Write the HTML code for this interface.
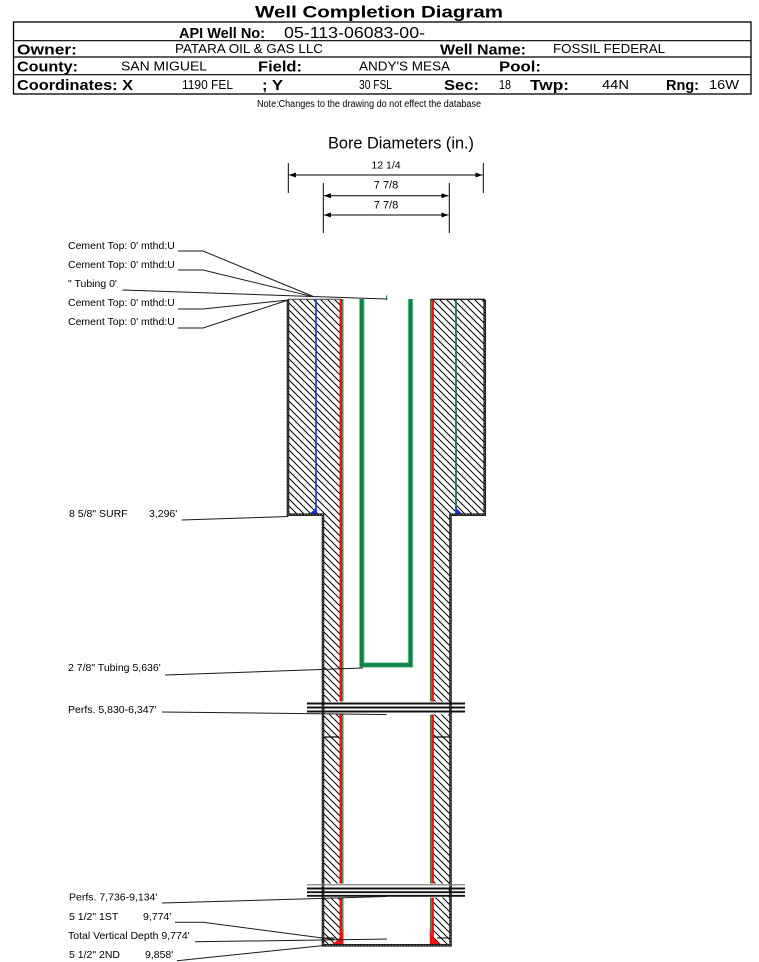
<!DOCTYPE html>
<html><head><meta charset="utf-8">
<style>
html,body{margin:0;padding:0;background:#fff;}
svg{display:block;}
text{font-family:"Liberation Sans",Arial,sans-serif;fill:#000;}
.b{font-weight:bold;}
</style></head>
<body>
<svg width="759" height="962" viewBox="0 0 759 962" xmlns="http://www.w3.org/2000/svg">
<defs>
<pattern id="h" patternUnits="userSpaceOnUse" width="7" height="7">
<path d="M-1,-1 L8,8 M-1,6 L1,8 M6,-1 L8,1" stroke="#000" stroke-width="1" fill="none"/>
</pattern>
</defs>
<rect width="759" height="962" fill="#fff"/>

<!-- Header -->
<text x="255" y="17.5" class="b" font-size="17" textLength="248" lengthAdjust="spacingAndGlyphs">Well Completion Diagram</text>
<rect x="13.5" y="22" width="737.5" height="72" fill="none" stroke="#000" stroke-width="1.3"/>
<line x1="13.5" y1="40.7" x2="751" y2="40.7" stroke="#000" stroke-width="1.2"/>
<line x1="13.5" y1="57" x2="751" y2="57" stroke="#000" stroke-width="1.2"/>
<line x1="13.5" y1="74.7" x2="751" y2="74.7" stroke="#000" stroke-width="1.2"/>

<text x="179" y="38" class="b" font-size="15" textLength="86" lengthAdjust="spacingAndGlyphs">API Well No:</text>
<text x="284" y="38" font-size="16" textLength="141" lengthAdjust="spacingAndGlyphs">05-113-06083-00-</text>

<text x="17" y="54.5" class="b" font-size="15" textLength="60" lengthAdjust="spacingAndGlyphs">Owner:</text>
<text x="175" y="53" font-size="13" textLength="148" lengthAdjust="spacingAndGlyphs">PATARA OIL &amp; GAS LLC</text>
<text x="440" y="54.5" class="b" font-size="15" textLength="86" lengthAdjust="spacingAndGlyphs">Well Name:</text>
<text x="553" y="53" font-size="13" textLength="112" lengthAdjust="spacingAndGlyphs">FOSSIL FEDERAL</text>

<text x="17" y="71.5" class="b" font-size="15" textLength="61" lengthAdjust="spacingAndGlyphs">County:</text>
<text x="121" y="70.5" font-size="13" textLength="86" lengthAdjust="spacingAndGlyphs">SAN MIGUEL</text>
<text x="258" y="71.5" class="b" font-size="15" textLength="44" lengthAdjust="spacingAndGlyphs">Field:</text>
<text x="359" y="70.5" font-size="13" textLength="91" lengthAdjust="spacingAndGlyphs">ANDY'S MESA</text>
<text x="499" y="71.5" class="b" font-size="15" textLength="42" lengthAdjust="spacingAndGlyphs">Pool:</text>

<text x="17" y="90" class="b" font-size="15" textLength="116" lengthAdjust="spacingAndGlyphs">Coordinates: X</text>
<text x="182" y="89" font-size="13" textLength="51" lengthAdjust="spacingAndGlyphs">1190 FEL</text>
<text x="262" y="90" class="b" font-size="15" textLength="21" lengthAdjust="spacingAndGlyphs">; Y</text>
<text x="359" y="89" font-size="13" textLength="33" lengthAdjust="spacingAndGlyphs">30 FSL</text>
<text x="444" y="90" class="b" font-size="15" textLength="35" lengthAdjust="spacingAndGlyphs">Sec:</text>
<text x="499" y="89" font-size="13" textLength="12" lengthAdjust="spacingAndGlyphs">18</text>
<text x="530" y="90" class="b" font-size="15" textLength="39" lengthAdjust="spacingAndGlyphs">Twp:</text>
<text x="602" y="89" font-size="13" textLength="27" lengthAdjust="spacingAndGlyphs">44N</text>
<text x="666" y="90" class="b" font-size="15" textLength="33" lengthAdjust="spacingAndGlyphs">Rng:</text>
<text x="709" y="89" font-size="13" textLength="30" lengthAdjust="spacingAndGlyphs">16W</text>

<text x="257" y="107" font-size="10" textLength="224" lengthAdjust="spacingAndGlyphs">Note:Changes to the drawing do not effect the database</text>

<!-- Bore diameters -->
<text x="328" y="148.3" font-size="16.3" textLength="146" lengthAdjust="spacingAndGlyphs">Bore Diameters (in.)</text>
<g stroke="#000" stroke-width="1">
<line x1="288.3" y1="163" x2="288.3" y2="193"/>
<line x1="483.3" y1="163" x2="483.3" y2="193"/>
<line x1="323.3" y1="183" x2="323.3" y2="233"/>
<line x1="449.3" y1="183" x2="449.3" y2="233"/>
<line x1="289" y1="175" x2="482.5" y2="175"/>
<line x1="324" y1="195.7" x2="448.5" y2="195.7"/>
<line x1="324" y1="215" x2="448.5" y2="215"/>
</g>
<g fill="#000">
<polygon points="289,175 296,172.5 296,177.5"/>
<polygon points="482.5,175 475.5,172.5 475.5,177.5"/>
<polygon points="324,195.7 331,193.2 331,198.2"/>
<polygon points="448.5,195.7 441.5,193.2 441.5,198.2"/>
<polygon points="324,215 331,212.5 331,217.5"/>
<polygon points="448.5,215 441.5,212.5 441.5,217.5"/>
</g>
<text x="386" y="168.5" font-size="10.5" text-anchor="middle">12 1/4</text>
<text x="386" y="188.3" font-size="11" text-anchor="middle">7 7/8</text>
<text x="386" y="208.3" font-size="11" text-anchor="middle">7 7/8</text>

<!-- Hatched cement -->
<rect x="288" y="299" width="52" height="215.7" fill="url(#h)"/>
<rect x="432" y="299" width="53" height="215.7" fill="url(#h)"/>
<rect x="323" y="514" width="17" height="431" fill="url(#h)"/>
<rect x="432" y="514" width="18" height="431" fill="url(#h)"/>

<!-- perf breaks -->
<rect x="324.5" y="701.5" width="124" height="13" fill="#fff"/>
<rect x="324.5" y="883.5" width="124" height="14" fill="#fff"/>

<!-- inner hatch marks -->
<line x1="323" y1="737" x2="339" y2="737" stroke="#000" stroke-width="1.2"/>
<line x1="433" y1="737" x2="449" y2="737" stroke="#000" stroke-width="1.2"/>
<line x1="323" y1="938" x2="336" y2="938" stroke="#000" stroke-width="1"/>
<line x1="437" y1="938" x2="449" y2="938" stroke="#000" stroke-width="1"/>

<!-- surface casing -->
<line x1="316" y1="299" x2="316" y2="514" stroke="#2244cc" stroke-width="1.8"/>
<line x1="456" y1="299" x2="456" y2="514" stroke="#117a55" stroke-width="1.8"/>
<polygon points="316.5,507.5 316.5,514.5 309,514.5" fill="#1030e0"/>
<polygon points="455.5,507.5 455.5,514.5 463,514.5" fill="#1030e0"/>

<!-- production casing (red + green) -->
<g stroke-width="2.6" stroke="#ee1111">
<line x1="340.8" y1="299" x2="340.8" y2="701.5"/>
<line x1="340.8" y1="714.5" x2="340.8" y2="883.5"/>
<line x1="340.8" y1="897.5" x2="340.8" y2="944"/>
<line x1="432.6" y1="299" x2="432.6" y2="701.5"/>
<line x1="432.6" y1="714.5" x2="432.6" y2="883.5"/>
<line x1="432.6" y1="897.5" x2="432.6" y2="944"/>
</g>
<g stroke-width="1.3" stroke="#1b8a3a">
<line x1="342.8" y1="299" x2="342.8" y2="701.5"/>
<line x1="342.8" y1="714.5" x2="342.8" y2="883.5"/>
<line x1="342.8" y1="897.5" x2="342.8" y2="944"/>
<line x1="430.6" y1="299" x2="430.6" y2="701.5"/>
<line x1="430.6" y1="714.5" x2="430.6" y2="883.5"/>
<line x1="430.6" y1="897.5" x2="430.6" y2="944"/>
</g>
<path d="M343.5,928 L343.5,944.5 L331,944.5 Q341,940 343.5,928 Z" fill="#ee1111"/>
<path d="M429.8,928 L429.8,944.5 L442,944.5 Q432,940 429.8,928 Z" fill="#ee1111"/>

<!-- tubing -->
<path d="M361.8,299 V665 H410.5 V299" fill="none" stroke="#8cc89c" stroke-width="5.5"/>
<path d="M361.8,299 V665 H410.5 V299" fill="none" stroke="#0b8548" stroke-width="3.8"/>
<line x1="386.6" y1="295.5" x2="386.6" y2="300" stroke="#0b8548" stroke-width="1.2"/>

<!-- well outline -->
<line x1="288" y1="299.3" x2="341" y2="299.3" stroke="#555" stroke-width="1.2"/>
<line x1="431" y1="299.3" x2="485" y2="299.3" stroke="#222" stroke-width="1.4"/>
<path d="M288,299.5 V514.7 H323 V945.3 H450.5 V514.7 H484.7 V299.5" fill="none" stroke="#1a1a1a" stroke-width="2.6"/>
<path d="M288,299.5 V514.7 H323 V945.3 H450.5 V514.7 H484.7 V299.5" fill="none" stroke="#9a9a9a" stroke-width="0.8" stroke-dasharray="1.2,1.8"/>

<!-- perforations -->
<g stroke="#111" stroke-width="1.9">
<line x1="307" y1="703.5" x2="465" y2="703.5"/>
<line x1="307" y1="707.5" x2="465" y2="707.5"/>
<line x1="307" y1="711.5" x2="465" y2="711.5"/>
<line x1="307" y1="888.5" x2="465" y2="888.5"/>
<line x1="307" y1="892.2" x2="465" y2="892.2"/>
<line x1="307" y1="895.8" x2="465" y2="895.8"/>
</g>
<line x1="307" y1="884.8" x2="465" y2="884.8" stroke="#777" stroke-width="1.2"/>

<!-- leaders -->
<g stroke="#1a1a1a" stroke-width="1" fill="none">
<polyline points="178,251 203,251 313.3,296.5"/>
<polyline points="178,270 203,270 313.3,296.8"/>
<polyline points="122.5,290 386.6,299"/>
<polyline points="178,309 203,309 288.3,300"/>
<polyline points="178,328 203,328 288.3,300"/>
<polyline points="181.5,520 288.3,516.5"/>
<polyline points="165,675 363,668"/>
<polyline points="162,712 386.5,714.5"/>
<polyline points="162,903 387,896.5"/>
<polyline points="175,922.3 203.3,922.3 334,939.5"/>
<polyline points="195,941.8 387,939"/>
<polyline points="177,960.7 324,945.5"/>
</g>

<!-- labels -->
<g font-size="10.5">
<text x="68" y="249">Cement Top: 0' mthd:U</text>
<text x="68" y="268">Cement Top: 0' mthd:U</text>
<text x="68" y="287">" Tubing 0'</text>
<text x="68" y="306">Cement Top: 0' mthd:U</text>
<text x="68" y="325">Cement Top: 0' mthd:U</text>
<text x="69" y="517">8 5/8" SURF</text>
<text x="149" y="517">3,296'</text>
<text x="68" y="671">2 7/8" Tubing 5,636'</text>
<text x="68" y="713">Perfs. 5,830-6,347'</text>
<text x="69" y="900.5">Perfs. 7,736-9,134'</text>
<text x="69" y="920">5 1/2" 1ST</text>
<text x="143" y="920">9,774'</text>
<text x="68" y="939">Total Vertical Depth 9,774'</text>
<text x="69" y="958">5 1/2" 2ND</text>
<text x="145" y="958">9,858'</text>
</g>
</svg>
</body></html>
